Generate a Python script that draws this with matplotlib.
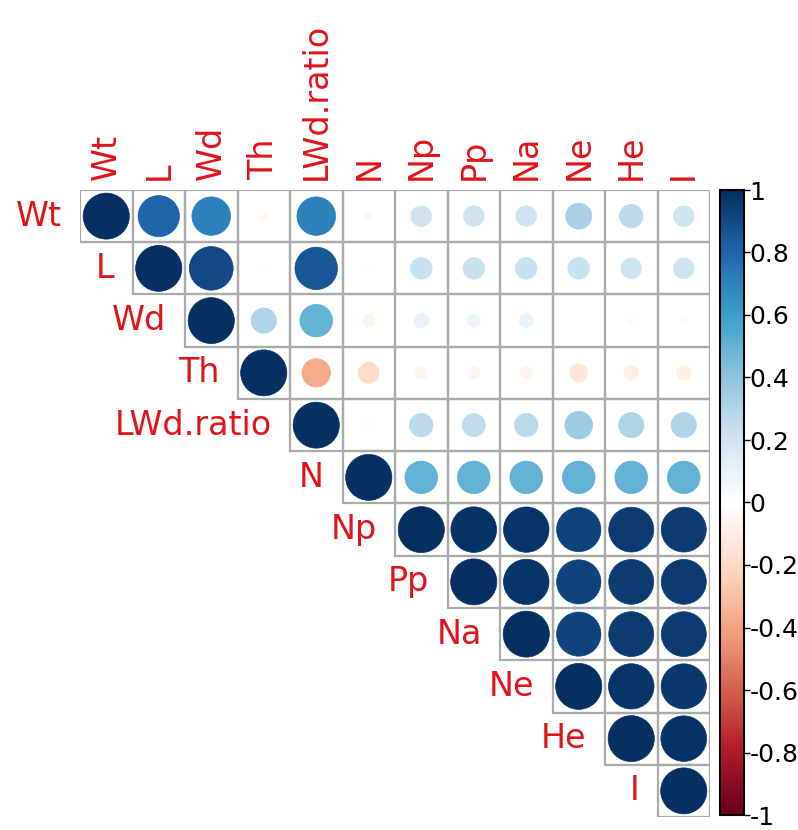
import numpy as np
import matplotlib
matplotlib.use('Agg')
import matplotlib.pyplot as plt
from matplotlib.colors import LinearSegmentedColormap, Normalize
from matplotlib.patches import Circle, Rectangle
from matplotlib.colorbar import ColorbarBase

plt.rcParams['font.family'] = ['DejaVu Sans']

labels = ['Wt', 'L', 'Wd', 'Th', 'LWd.ratio', 'N', 'Np', 'Pp', 'Na', 'Ne', 'He', 'I']

# upper triangle, each row starts at the diagonal
row_Wt = [1, 0.8, 0.7, -0.05, 0.7, 0.03, 0.2, 0.2, 0.2, 0.32, 0.26, 0.2]
row_L = [1, 0.9, 0.01, 0.85, -0.02, 0.22, 0.22, 0.22, 0.22, 0.2, 0.2]
row_Wd = [1, 0.3, 0.5, -0.07, 0.1, 0.08, 0.09, 0.0, 0.02, 0.02]
row_Th = [1, -0.38, -0.2, -0.07, -0.07, -0.07, -0.15, -0.1, -0.1]
row_LWd = [1, -0.02, 0.26, 0.25, 0.26, 0.36, 0.3, 0.3]
row_N = [1, 0.5, 0.5, 0.5, 0.5, 0.5, 0.5]
row_Np = [1, 0.98, 0.97, 0.92, 0.95, 0.95]
row_Pp = [1, 0.97, 0.92, 0.95, 0.95]
row_Na = [1, 0.92, 0.95, 0.95]
row_Ne = [1, 0.97, 0.96]
row_He = [1, 0.98]
row_I = [1]
rows = [row_Wt, row_L, row_Wd, row_Th, row_LWd, row_N,
        row_Np, row_Pp, row_Na, row_Ne, row_He, row_I]

cbar_ticks = [1, 0.8, 0.6, 0.4, 0.2, 0, -0.2, -0.4, -0.6, -0.8, -1]

# corrplot RdBu palette
cols = ['#67001F', '#B2182B', '#D6604D', '#F4A582', '#FDDBC7', '#FFFFFF',
        '#D1E5F0', '#92C5DE', '#3BA0CC', '#2166AC', '#053061']
cmap = LinearSegmentedColormap.from_list('corr', cols, N=200)
norm = Normalize(-1, 1)

fig = plt.figure(figsize=(7.98, 8.30), dpi=100)
ax = fig.add_axes([80 / 798, 13 / 830, 630 / 798, 627 / 830])
n = len(labels)
ax.set_xlim(0, n)
ax.set_ylim(n, 0)
ax.axis('off')

for i, row in enumerate(rows):
    for k, r in enumerate(row):
        j = i + k
        ax.add_patch(Rectangle((j, i), 1, 1, fill=False, edgecolor='#AAAAAA', lw=1.6, zorder=1))
        if abs(r) > 0.001:
            rad = 0.44 * np.sqrt(abs(r))
            ax.add_patch(Circle((j + 0.5, i + 0.5), rad, facecolor=cmap(norm(r)),
                                edgecolor=cmap(norm(r)), lw=0.5, zorder=2))

red = '#E0141A'
for i, lab in enumerate(labels):
    ax.text(i - 0.35, i + 0.5, lab, ha='right', va='center', color=red, fontsize=24, clip_on=False)
    ax.text(i + 0.5, -0.2, lab, ha='center', va='bottom', rotation=90, color=red,
            fontsize=24, clip_on=False)

cax = fig.add_axes([720 / 798, 15 / 830, 24 / 798, 625 / 830])
cb = ColorbarBase(cax, cmap=cmap, norm=norm, orientation='vertical')
cb.set_ticks(cbar_ticks)
cb.set_ticklabels([('%g' % t) for t in cbar_ticks])
cb.outline.set_linewidth(1.5)
cax.tick_params(labelsize=18, length=4, width=1, pad=0)

fig.savefig('out.png', dpi=100, facecolor='white')
